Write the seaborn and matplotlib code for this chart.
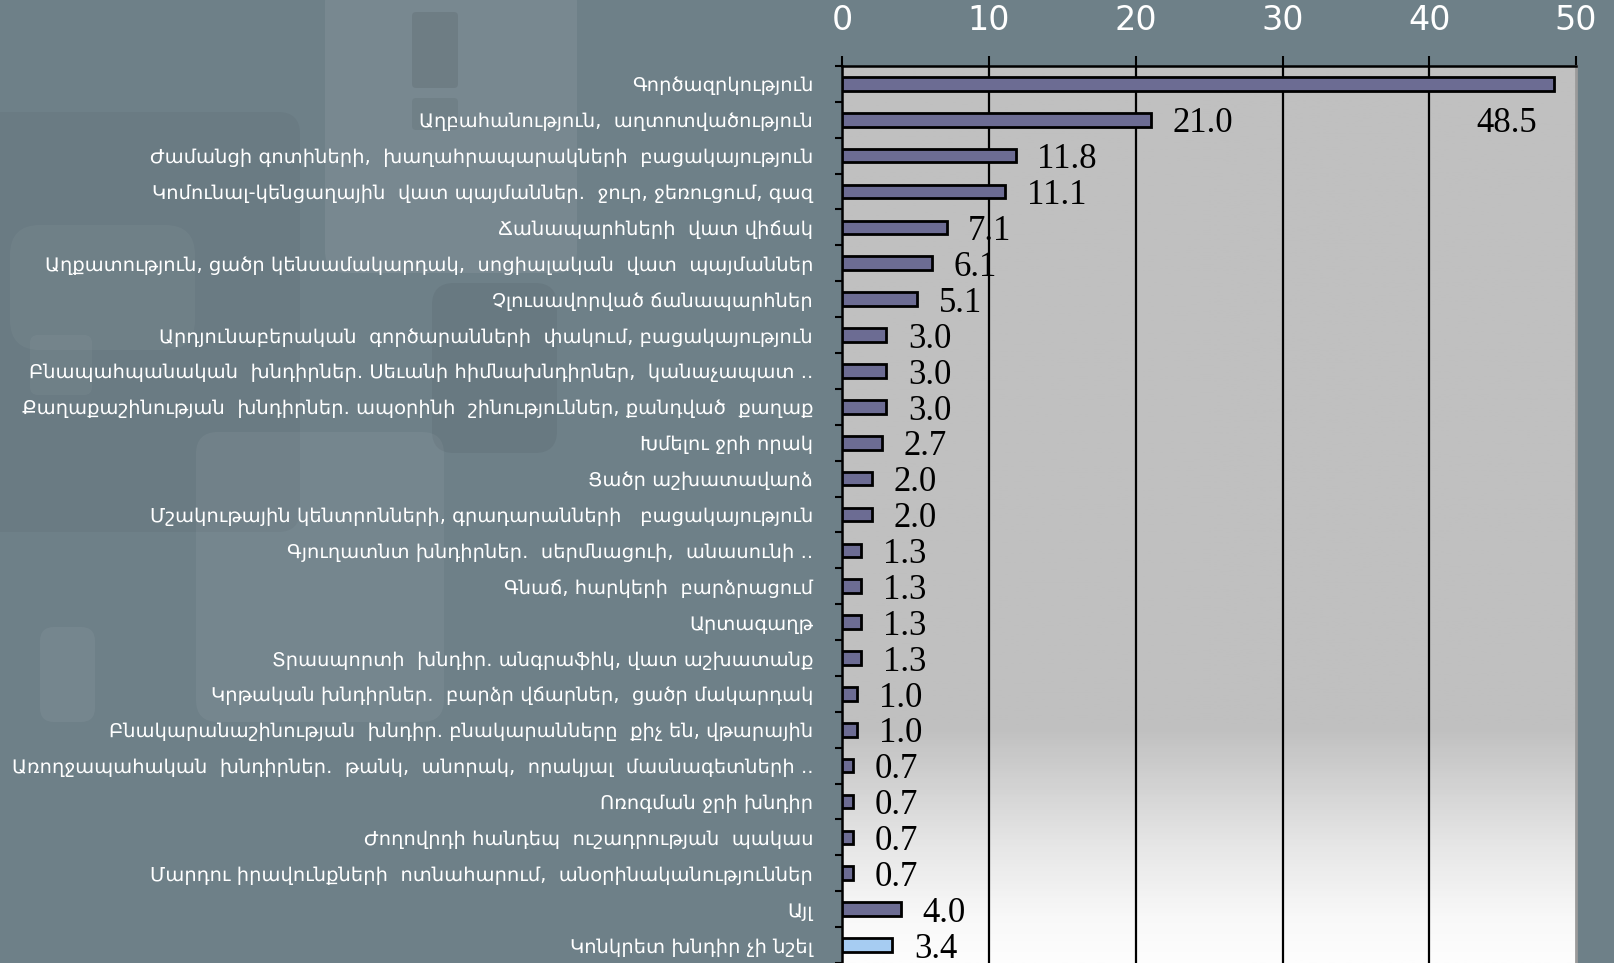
import numpy as np
import pandas as pd
import seaborn as sns
import matplotlib.pyplot as plt
from matplotlib.colors import LinearSegmentedColormap
from matplotlib.patches import FancyBboxPatch

# data
labels = [
    "Գործազրկություն",
    "Աղբահանություն,  աղտոտվածություն",
    "Ժամանցի գոտիների,  խաղահրապարակների  բացակայություն",
    "Կոմունալ-կենցաղային  վատ պայմաններ.  ջուր, ջեռուցում, գազ",
    "Ճանապարհների  վատ վիճակ",
    "Աղքատություն, ցածր կենսամակարդակ,  սոցիալական  վատ  պայմաններ",
    "Չլուսավորված ճանապարհներ",
    "Արդյունաբերական  գործարանների  փակում, բացակայություն",
    "Բնապահպանական  խնդիրներ. Սեւանի հիմնախնդիրներ,  կանաչապատ ..",
    "Քաղաքաշինության  խնդիրներ. ապօրինի  շինություններ, քանդված  քաղաք",
    "Խմելու ջրի որակ",
    "Ցածր աշխատավարձ",
    "Մշակութային կենտրոնների, գրադարանների   բացակայություն",
    "Գյուղատնտ խնդիրներ.  սերմնացուի,  անասունի ..",
    "Գնաճ, հարկերի  բարձրացում",
    "Արտագաղթ",
    "Տրասպորտի  խնդիր. անգրաֆիկ, վատ աշխատանք",
    "Կրթական խնդիրներ.  բարձր վճարներ,  ցածր մակարդակ",
    "Բնակարանաշինության  խնդիր. բնակարանները  քիչ են, վթարային",
    "Առողջապահական  խնդիրներ.  թանկ,  անորակ,  որակյալ  մասնագետների ..",
    "Ոռոգման ջրի խնդիր",
    "Ժողովրդի հանդեպ  ուշադրության  պակաս",
    "Մարդու իրավունքների  ոտնահարում,  անօրինականություններ",
    "Այլ",
    "Կոնկրետ խնդիր չի նշել",
]
values = [48.5, 21.0, 11.8, 11.1, 7.1, 6.1, 5.1, 3.0, 3.0, 3.0, 2.7, 2.0, 2.0,
          1.3, 1.3, 1.3, 1.3, 1.0, 1.0, 0.7, 0.7, 0.7, 0.7, 4.0, 3.4]
bar_colors = ["#666699"] * 24 + ["#99ccff"]
xticks = [0, 10, 20, 30, 40, 50]

df = pd.DataFrame({"label": labels, "value": values})

bg = "#6e8088"
fig = plt.figure(figsize=(16.14, 9.63), dpi=100, facecolor=bg)

# blurred photo behind the chart (rough shapes)
bgax = fig.add_axes([0, 0, 1, 1])
bgax.set_xlim(0, 1614)
bgax.set_ylim(963, 0)
bgax.axis("off")
shapes = [
    (325, -20, 252, 293, "white", 0.07, 22),
    (412, 12, 46, 76, "black", 0.08, 4),
    (412, 98, 46, 32, "black", 0.06, 4),
    (-30, 112, 330, 420, "black", 0.035, 22),
    (10, 225, 185, 125, "white", 0.04, 30),
    (30, 335, 62, 60, "white", 0.04, 8),
    (432, 283, 125, 170, "black", 0.05, 22),
    (196, 432, 248, 290, "white", 0.05, 22),
    (40, 627, 55, 95, "white", 0.05, 14),
]
for x, y, w, h, c, a, r in shapes:
    bgax.add_patch(FancyBboxPatch((x, y), w, h, boxstyle=f"round,pad=0,rounding_size={r}",
                                  fc=c, ec="none", alpha=a))

ax = fig.add_axes([0.5219, 0.0, 0.4546, 0.9315])

# plot area gradient: grey on top, fading to white at the bottom
cmap = LinearSegmentedColormap.from_list(
    "pa", [(0, "#c0c0c0"), (0.74, "#c0c0c0"), (0.87, "#e6e6e6"), (0.95, "#f8f8f8"), (1, "#fdfdfd")])
grad = np.linspace(0, 1, 400).reshape(-1, 1)
ax.imshow(grad, cmap=cmap, extent=[0, 50, 24.5, -0.5], aspect="auto", zorder=0)

for t in xticks[1:-1]:
    ax.axvline(t, color="black", lw=1.6, zorder=1)

sns.barplot(data=df, x="value", y="label", hue="label", palette=bar_colors,
            legend=False, orient="h", width=0.38, edgecolor="black", linewidth=2,
            ax=ax, zorder=3)

ax.set_xlim(0, 50)
ax.set_ylim(24.5, -0.5)
ax.set_xlabel("")
ax.set_ylabel("")

# value labels
for i, v in enumerate(values):
    if i == 0:
        ax.annotate(f"{v:.1f}", xy=(v, i + 1), xytext=(-12, -3), textcoords="offset points",
                    ha="right", va="center", fontsize=25, family="Liberation Serif", zorder=5)
    else:
        ax.annotate(f"{v:.1f}", xy=(v, i), xytext=(15.5, -3), textcoords="offset points",
                    ha="left", va="center", fontsize=25, family="Liberation Serif", zorder=5)

ax.xaxis.tick_top()
ax.set_xticks(xticks)
ax.set_xticklabels([str(t) for t in xticks], color="white", fontsize=24,
                   family=["Liberation Sans Narrow", "DejaVu Sans Condensed"])
ax.tick_params(axis="x", length=7.2, width=1.5, color="black", pad=14)

ax.set_yticks(range(len(labels)))
ax.set_yticklabels(labels, color="white", fontsize=14, family=["DejaVu Sans"])
ax.tick_params(axis="y", which="major", length=0, pad=21)
ax.set_yticks(np.arange(-0.5, 24.6, 1), minor=True)
ax.tick_params(axis="y", which="minor", length=5, width=1.5, color="black")

for s in ["top", "left"]:
    ax.spines[s].set_color("black")
    ax.spines[s].set_linewidth(1.8)
ax.spines["right"].set_color("#9a9a9a")
ax.spines["right"].set_linewidth(2)
ax.spines["bottom"].set_visible(False)

fig.savefig("out.png", dpi=100, facecolor=bg)
